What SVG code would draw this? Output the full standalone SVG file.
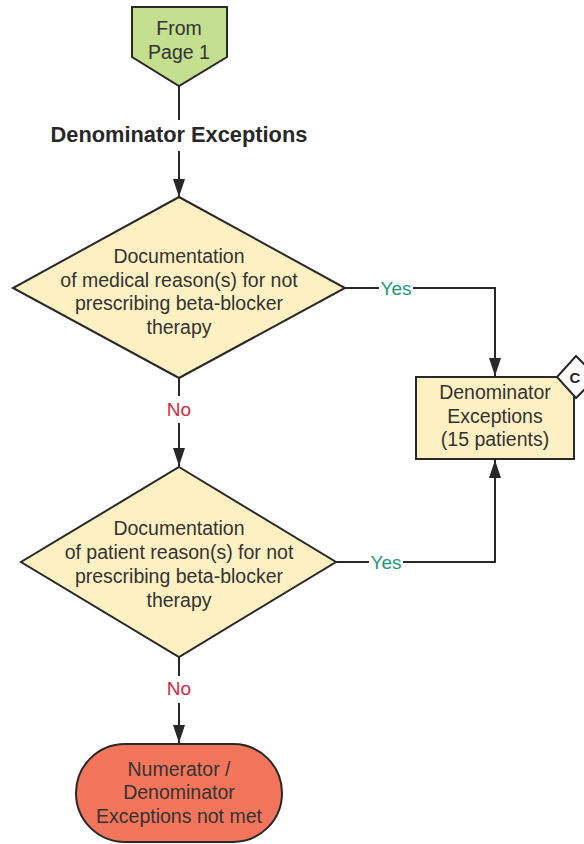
<svg xmlns="http://www.w3.org/2000/svg" width="584" height="844" viewBox="0 0 584 844">
<defs>
<marker id="arr" viewBox="0 0 18 12" refX="18" refY="6" markerWidth="18" markerHeight="12" markerUnits="userSpaceOnUse" orient="auto">
<path d="M0,0 L18,6 L0,12 Z" fill="#282828"/>
</marker>
<style>
.t{font-family:"Liberation Sans",Arial,sans-serif;font-size:19.5px;fill:#333333;text-anchor:middle}
.b{font-family:"Liberation Sans",Arial,sans-serif;font-size:21.8px;font-weight:bold;fill:#282828;text-anchor:middle}
.yes{font-family:"Liberation Sans",Arial,sans-serif;font-size:19px;fill:#1a9a78;text-anchor:middle}
.no{font-family:"Liberation Sans",Arial,sans-serif;font-size:19px;fill:#d52b3d;text-anchor:middle}
.e{fill:none;stroke:#282828;stroke-width:2}
.s{stroke:#282828;stroke-width:2}
</style>
</defs>
<rect width="584" height="844" fill="#ffffff"/>
<g id="connectors">
<path class="e" d="M179,86 V120"/>
<path class="e" d="M179,151 V197" marker-end="url(#arr)"/>
<path class="e" d="M179,378 V396"/>
<path class="e" d="M179,423 V466" marker-end="url(#arr)"/>
<path class="e" d="M179,657 V676"/>
<path class="e" d="M179,703 V743" marker-end="url(#arr)"/>
<path class="e" d="M345,288 H379"/>
<path class="e" d="M413,288 H495 V376" marker-end="url(#arr)"/>
<path class="e" d="M336,562 H369"/>
<path class="e" d="M403,562 H495 V460" marker-end="url(#arr)"/>
<text class="yes" x="396" y="295">Yes</text>
<text class="yes" x="386" y="569">Yes</text>
<text class="no" x="179" y="416">No</text>
<text class="no" x="179" y="695">No</text>
</g>
<g id="from-page-1">
<polygon class="s" points="132,7 227,7 227,57 179,86 132,57" fill="#c3df8f"/>
<text class="t" x="179" y="35">From</text>
<text class="t" x="179" y="59">Page 1</text>
</g>
<g id="title">
<text class="b" x="179" y="142">Denominator Exceptions</text>
</g>
<g id="decision-medical">
<polygon class="s" points="179,197 345,288 179,378 13,288" fill="#fdf0c2"/>
<text class="t" x="179" y="263">Documentation</text>
<text class="t" x="179" y="287">of medical reason(s) for not</text>
<text class="t" x="179" y="310">prescribing beta-blocker</text>
<text class="t" x="179" y="334">therapy</text>
</g>
<g id="decision-patient">
<polygon class="s" points="179,467 336,562 179,657 21,562" fill="#fdf0c2"/>
<text class="t" x="179" y="535">Documentation</text>
<text class="t" x="179" y="559">of patient reason(s) for not</text>
<text class="t" x="179" y="583">prescribing beta-blocker</text>
<text class="t" x="179" y="607">therapy</text>
</g>
<g id="denominator-exceptions">
<rect class="s" x="416" y="377" width="158" height="82" fill="#fdf0c2"/>
<text class="t" x="495" y="399">Denominator</text>
<text class="t" x="495" y="423">Exceptions</text>
<text class="t" x="495" y="446">(15 patients)</text>
</g>
<g id="connector-c">
<polygon class="s" points="576,356 597,377 576,398 557,377" fill="#ffffff"/>
<text x="575" y="383" font-family="Liberation Sans,Arial,sans-serif" font-size="15" font-weight="bold" fill="#282828" text-anchor="middle">C</text>
</g>
<g id="not-met">
<rect class="s" x="76" y="744" width="206" height="98" rx="49" ry="49" fill="#f3765c"/>
<text class="t" x="179" y="776">Numerator /</text>
<text class="t" x="179" y="799">Denominator</text>
<text class="t" x="179" y="823">Exceptions not met</text>
</g>
</svg>
